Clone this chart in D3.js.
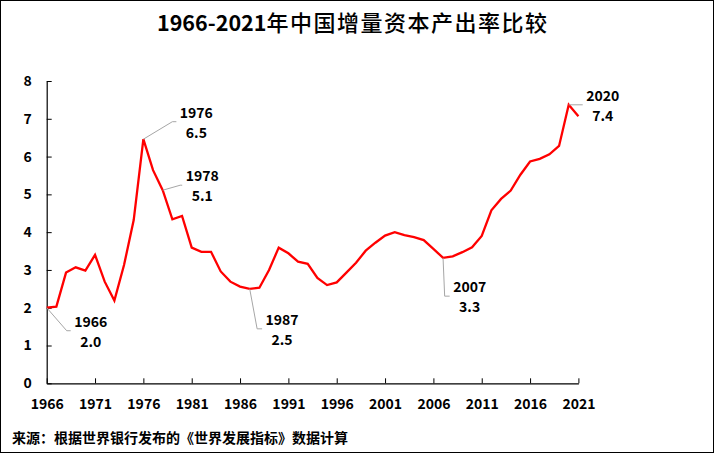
<!DOCTYPE html>
<html>
<head>
<meta charset="utf-8">
<script src="https://cdn.jsdelivr.net/npm/d3@7/dist/d3.min.js"></script>
<style>
  html, body { margin: 0; padding: 0; background: #fff; }
  svg { display: block; }
  text { font-family: "Noto Sans CJK SC", "Noto Sans", sans-serif; }
</style>
</head>
<body>
<svg id="chart" width="714" height="453"></svg>
<script>
// ---- data ----
const titleYears = "1966-2021";
const titleText = "年中国增量资本产出率比较";
const sourceText = "来源：根据世界银行发布的《世界发展指标》数据计算";
const years = d3.range(1966, 2022);
const values = [
  2.00, 2.03, 2.93, 3.07, 2.98, 3.40, 2.69, 2.19, 3.13, 4.32,
  6.46, 5.64, 5.11, 4.34, 4.43, 3.59, 3.48, 3.48, 2.96, 2.69,
  2.56, 2.50, 2.53, 3.00, 3.59, 3.44, 3.22, 3.16, 2.79, 2.60,
  2.67, 2.93, 3.19, 3.51, 3.72, 3.91, 4.00, 3.92, 3.87, 3.79,
  3.56, 3.32, 3.36, 3.47, 3.60, 3.90, 4.58, 4.88, 5.10, 5.52,
  5.87, 5.94, 6.06, 6.28, 7.37, 7.07
];
const xTickYears = [1966, 1971, 1976, 1981, 1986, 1991, 1996, 2001, 2006, 2011, 2016, 2021];
const yTickValues = [0, 1, 2, 3, 4, 5, 6, 7, 8];
const annotatedYears = [1966, 1976, 1978, 1987, 2007, 2020];

// ---- layout ----
const svg = d3.select("#chart");
const W = 714, H = 453;
const plotLeft = 46.7, plotRight = 578.4, plotTop = 81, plotBottom = 383.3;

svg.append("rect").attr("x", 0.5).attr("y", 0.5).attr("width", W - 1).attr("height", H - 1)
  .attr("fill", "#fff").attr("stroke", "#000").attr("stroke-width", 1);

const x = d3.scaleLinear().domain([1966, 2021]).range([plotLeft, plotRight]);
const y = d3.scaleLinear().domain([0, 8]).range([plotBottom, plotTop]);

// title
const title = svg.append("text").attr("x", 157).attr("y", 31)
  .attr("fill", "#000");
title.append("tspan").attr("font-size", 21.5).attr("font-weight", "bold").text(titleYears);
title.append("tspan").attr("font-size", 22).attr("font-weight", 500).attr("letter-spacing", 1.5).text(titleText);

// axes
const xAxis = d3.axisBottom(x).tickValues(xTickYears).tickFormat(d3.format("d"))
  .tickSizeInner(-5).tickSizeOuter(0).tickPadding(16);
const gx = svg.append("g").attr("transform", `translate(0,${plotBottom})`).call(xAxis);
gx.select(".domain").attr("stroke", "#000").attr("stroke-width", 1.2);
gx.selectAll(".tick line").attr("stroke", "#000");
gx.selectAll("text").attr("font-size", 14).attr("font-weight", "bold").attr("fill", "#000")
  .attr("font-family", "'Noto Sans CJK SC', sans-serif");

const yAxis = d3.axisLeft(y).tickValues(yTickValues).tickFormat(d3.format("d"))
  .tickSizeInner(-5).tickSizeOuter(0).tickPadding(15);
const gy = svg.append("g").attr("transform", `translate(${plotLeft},0)`).call(yAxis);
gy.select(".domain").attr("stroke", "#000").attr("stroke-width", 1.2);
gy.selectAll(".tick line").attr("stroke", "#000");
gy.selectAll("text").attr("font-size", 14).attr("font-weight", "bold").attr("fill", "#000")
  .attr("font-family", "'Noto Sans CJK SC', sans-serif");

// line
const data = years.map((yr, i) => ({ year: yr, value: values[i] }));
const line = d3.line().x(d => x(d.year)).y(d => y(d.value));
svg.append("path").datum(data).attr("d", line)
  .attr("fill", "none").attr("stroke", "#ff0000").attr("stroke-width", 2.3)
  .attr("stroke-linejoin", "miter");

// annotations (leader elbow offsets in px)
const leader = {
  1966: { dx: 20, dy: 23, h: 4 },
  1976: { dx: 29, dy: -17.5, h: 4 },
  1978: { dx: 17.5, dy: -5, h: 2 },
  1987: { dx: 7.4, dy: 40, h: 5 },
  2007: { dx: 1.6, dy: 38.3, h: 5 },
  2020: { dx: 0, dy: 0, h: 14 }
};
annotatedYears.forEach(yr => {
  const d = data.find(p => p.year === yr);
  const px = x(d.year), py = y(d.value);
  const o = leader[yr];
  const ex = px + o.dx, ey = py + o.dy, hx = ex + o.h;
  svg.append("path").attr("d", `M${px},${py}L${ex},${ey}L${hx},${ey}`)
    .attr("fill", "none").attr("stroke", "#a6a6a6").attr("stroke-width", 1);
  const cx = hx + 20;
  svg.append("text").attr("x", cx).attr("y", ey - 4).attr("text-anchor", "middle")
    .attr("font-size", 14).attr("font-weight", "bold").attr("fill", "#000").text(String(yr));
  svg.append("text").attr("x", cx).attr("y", ey + 16).attr("text-anchor", "middle")
    .attr("font-size", 14).attr("font-weight", "bold").attr("fill", "#000").text(d3.format(".1f")(d.value));
});

// source
svg.append("text").attr("x", 12).attr("y", 443).attr("font-size", 14).attr("font-weight", "bold")
  .attr("fill", "#000").text(sourceText);
</script>
</body>
</html>
